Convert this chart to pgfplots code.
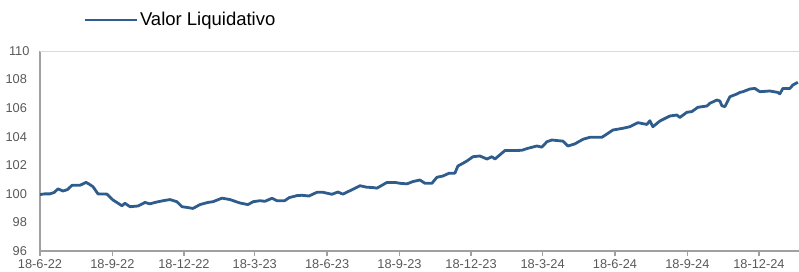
\documentclass[border=0pt]{standalone}
\usepackage{pgfplots}
\pgfplotsset{compat=1.18}
\usepackage{pgfplotstable}
\usepackage{fontspec}
\setmainfont{Liberation Sans}
\definecolor{lineblue}{RGB}{46,92,140}
\definecolor{tickgray}{RGB}{89,89,89}
\definecolor{axgray}{RGB}{160,160,160}
\definecolor{gridgray}{RGB}{217,217,217}
\pgfplotstableread{
d v
0 99.95
6 100.0
12.7 100.0
18 100.1
22.9 100.35
29.2 100.2
35 100.3
40.7 100.6
50.8 100.6
58.5 100.8
62 100.7
67.4 100.5
73.7 100.0
85.2 99.98
92.8 99.57
104.2 99.17
108 99.34
114.4 99.1
124.6 99.15
133.5 99.4
139.8 99.3
146.2 99.4
156.4 99.52
165.2 99.6
174.1 99.45
180.5 99.1
186.9 99.05
194.5 98.98
203.4 99.25
213.6 99.4
219.9 99.45
231.4 99.7
241.5 99.6
254.2 99.36
264.4 99.25
271 99.45
279.6 99.52
286 99.48
294.9 99.69
301.3 99.52
311 99.52
317 99.74
327 99.88
333 99.9
342 99.85
352.1 100.11
359.7 100.11
371.2 99.97
378.8 100.13
385 99.98
397.9 100.32
406.8 100.57
415.7 100.46
422 100.45
428.4 100.4
441.1 100.8
451.3 100.8
457.6 100.74
466.5 100.7
474.1 100.86
483 100.97
489.4 100.74
498.3 100.74
504.6 101.16
512.3 101.25
519.9 101.44
527.5 101.45
531.3 101.95
537.7 102.14
542.8 102.3
546.6 102.45
550.4 102.6
559.3 102.65
568.2 102.44
574.6 102.6
578.4 102.44
591.1 103.03
601.3 103.03
612.7 103.05
620.3 103.19
631.8 103.35
638.1 103.27
644.5 103.65
650.8 103.77
664.8 103.69
671.2 103.35
680.1 103.5
690.3 103.82
699.1 103.96
714.4 103.96
720.8 104.19
728.4 104.47
741.1 104.59
750 104.7
760.2 104.98
771.6 104.86
775.4 105.12
779.2 104.7
788.1 105.1
800.8 105.45
809.7 105.52
813.5 105.35
822.4 105.71
828.8 105.76
836.4 106.06
847.9 106.15
851.7 106.34
860.6 106.57
864.4 106.5
866.9 106.17
870.7 106.1
877.1 106.8
886 106.99
889.8 107.1
893.6 107.15
902.5 107.34
908.9 107.38
915.2 107.15
927.9 107.2
938.1 107.1
940.6 107.0
944.5 107.38
953.4 107.38
957.2 107.62
963.5 107.81
}\datatable
\begin{document}
\begin{tikzpicture}
\begin{axis}[
  scale only axis,
  width=759bp, height=200bp,
  xmin=0, xmax=965, ymin=96, ymax=110,
  axis x line=bottom, axis y line=left,
  axis line style={-, axgray, line width=1.2bp},
  ytick={96,98,...,108},
  extra y ticks={110},
  extra y tick style={grid=major, grid style={gridgray, line width=1bp}, major tick length=0pt},
  major y tick style={draw=none},
  yticklabel style={font=\fontsize{12.8bp}{15bp}\selectfont, text=tickgray, xshift=-7bp, /pgf/number format/assume math mode=true},
  xtick={0,92,183,273,365,457,548,639,731,823,914},
  xticklabels={18-6-22,18-9-22,18-12-22,18-3-23,18-6-23,18-9-23,18-12-23,18-3-24,18-6-24,18-9-24,18-12-24},
  xticklabel style={font=\fontsize{12.8bp}{15bp}\selectfont, text=tickgray},
  x tick style={axgray, line width=1.2bp},
  xtick align=outside,
  major tick length=5bp,
  legend style={at={(rel axis cs:0.0567,1.155)}, anchor=west, draw=none, fill=none,
    font=\fontsize{18.5bp}{21bp}\selectfont, inner sep=0pt},
  legend image code/.code={\draw[#1] (0bp,0bp) -- (52bp,0bp);},
  clip=true,
]
\addplot[lineblue, line width=2.8bp, line join=round] table[x=d,y=v]{\datatable};
\addlegendentry{Valor Liquidativo}
\end{axis}
\pgfresetboundingbox
\path (-40bp,-21bp) rectangle (759bp,251bp);
\end{tikzpicture}
\end{document}
